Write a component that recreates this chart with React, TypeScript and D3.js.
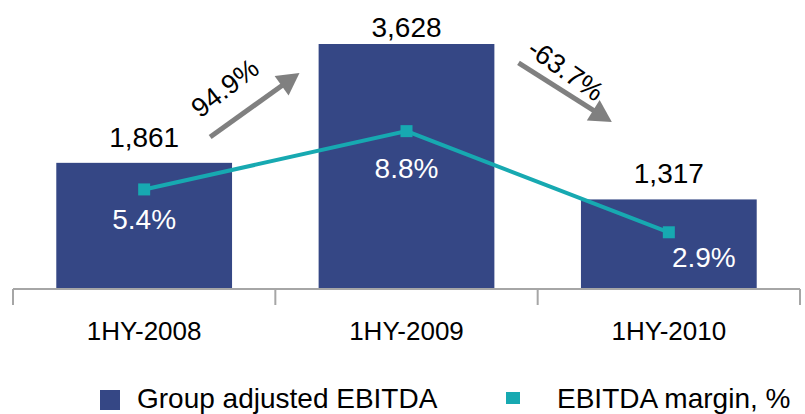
import React, { useEffect, useRef } from "react";
import * as d3 from "d3";

const categories = ["1HY-2008", "1HY-2009", "1HY-2010"];
const ebitda = [1861, 3628, 1317];
const margin = [5.4, 8.8, 2.9];
const growthLabels = ["94.9%", "-63.7%"];
const legendLabels = ["Group adjusted EBITDA", "EBITDA margin, %"];

const BAR = "#354785";
const LINE = "#17A9B1";
const FONT = "Liberation Sans, Arial, sans-serif";

const App = () => {
  const ref = useRef<SVGSVGElement>(null);

  useEffect(() => {
    const svg = d3.select(ref.current);
    svg.selectAll("*").remove();

    const x = d3.scaleBand().domain(categories).range([13, 800]).paddingInner(0).paddingOuter(0);
    const y = d3.scaleLinear().domain([0, 3628]).range([288, 44]);
    const y2 = d3.scaleLinear().domain([0, 14]).range([282, 42]);
    const bw = x.bandwidth();
    const barW = bw * 0.67;
    const cx = (c: string) => (x(c) as number) + bw / 2;

    // bars
    svg
      .selectAll("rect.bar")
      .data(categories)
      .join("rect")
      .attr("x", (c) => cx(c) - barW / 2)
      .attr("y", (c, i) => y(ebitda[i]))
      .attr("width", barW)
      .attr("height", (c, i) => y(0) - y(ebitda[i]))
      .attr("fill", BAR);

    // axis
    const axis = svg.append("g").attr("transform", `translate(0,${y(0) + 1})`);
    axis.append("line").attr("x1", 13).attr("x2", 800).attr("stroke", "#a6a6a6").attr("stroke-width", 2);
    const ticks = [...categories.map((c) => x(c) as number), 800];
    axis
      .selectAll("line.tick")
      .data(ticks)
      .join("line")
      .attr("x1", (d) => d)
      .attr("x2", (d) => d)
      .attr("y1", 0)
      .attr("y2", 16)
      .attr("stroke", "#a6a6a6")
      .attr("stroke-width", 2);

    axis
      .selectAll("text")
      .data(categories)
      .join("text")
      .attr("x", (c) => cx(c))
      .attr("y", 51)
      .attr("text-anchor", "middle")
      .attr("font-family", FONT)
      .attr("font-size", 26)
      .text((c) => c);

    // value labels
    svg
      .selectAll("text.val")
      .data(categories)
      .join("text")
      .attr("x", (c) => cx(c))
      .attr("y", (c, i) => Math.max(37, y(ebitda[i]) - 16))
      .attr("text-anchor", "middle")
      .attr("font-family", FONT)
      .attr("font-size", 28)
      .text((c, i) => d3.format(",")(ebitda[i]));

    // margin line
    const line = d3
      .line<number>()
      .x((d, i) => cx(categories[i]))
      .y((d) => y2(d));
    svg.append("path").attr("d", line(margin)).attr("fill", "none").attr("stroke", LINE).attr("stroke-width", 4);
    svg
      .selectAll("rect.pt")
      .data(margin)
      .join("rect")
      .attr("x", (d, i) => cx(categories[i]) - 6)
      .attr("y", (d) => y2(d) - 6)
      .attr("width", 12)
      .attr("height", 12)
      .attr("fill", LINE);
    const labelDy = [40, 47, 35];
    svg
      .selectAll("text.pct")
      .data(margin)
      .join("text")
      .attr("x", (d, i) => cx(categories[i]) + (i === 2 ? 35 : 0))
      .attr("y", (d, i) => y2(d) + labelDy[i])
      .attr("text-anchor", "middle")
      .attr("font-family", FONT)
      .attr("font-size", 28)
      .attr("fill", "#fff")
      .text((d) => d.toFixed(1) + "%");

    // growth arrows
    const arrows = [
      { x1: cx(categories[0]) + 66, y1: y(2245), x2: cx(categories[1]) - 107, y2: y(3197), label: growthLabels[0], lx: -14, ly: -22, rot: -2 },
      { x1: cx(categories[1]) + 112, y1: y(3346), x2: cx(categories[2]) - 57, y2: y(2468), label: growthLabels[1], lx: -12, ly: -10, rot: 3 },
    ];
    arrows.forEach((a) => {
      const ang = (Math.atan2(a.y2 - a.y1, a.x2 - a.x1) * 180) / Math.PI;
      const len = Math.hypot(a.x2 - a.x1, a.y2 - a.y1);
      const g = svg.append("g").attr("transform", `translate(${a.x1},${a.y1}) rotate(${ang})`);
      g.append("line").attr("x1", 0).attr("x2", len - 18).attr("stroke", "#808080").attr("stroke-width", 5);
      g.append("path").attr("d", `M${len},0 L${len - 22},-12 L${len - 22},12 Z`).attr("fill", "#808080");
      g.append("text")
        .attr("transform", `translate(${len / 2 + a.lx},${a.ly}) rotate(${a.rot})`)
        .attr("text-anchor", "middle")
        .attr("font-family", FONT)
        .attr("font-size", 27)
        .text(a.label);
    });

    // legend
    const leg = svg.append("g").attr("transform", "translate(0,408)");
    leg.append("rect").attr("x", 100).attr("y", -18).attr("width", 20).attr("height", 20).attr("fill", BAR);
    leg.append("text").attr("x", 137).attr("y", 0).attr("font-family", FONT).attr("font-size", 28).text(legendLabels[0]);
    leg.append("rect").attr("x", 506).attr("y", -16).attr("width", 14).attr("height", 12).attr("fill", LINE);
    leg.append("text").attr("x", 557).attr("y", 0).attr("font-family", FONT).attr("font-size", 28).text(legendLabels[1]);
  }, []);

  return (
    <div style={{ position: "absolute", left: 0, top: 0 }}>
      <svg ref={ref} width={805} height={414} style={{ display: "block" }} />
    </div>
  );
};

export default App;
